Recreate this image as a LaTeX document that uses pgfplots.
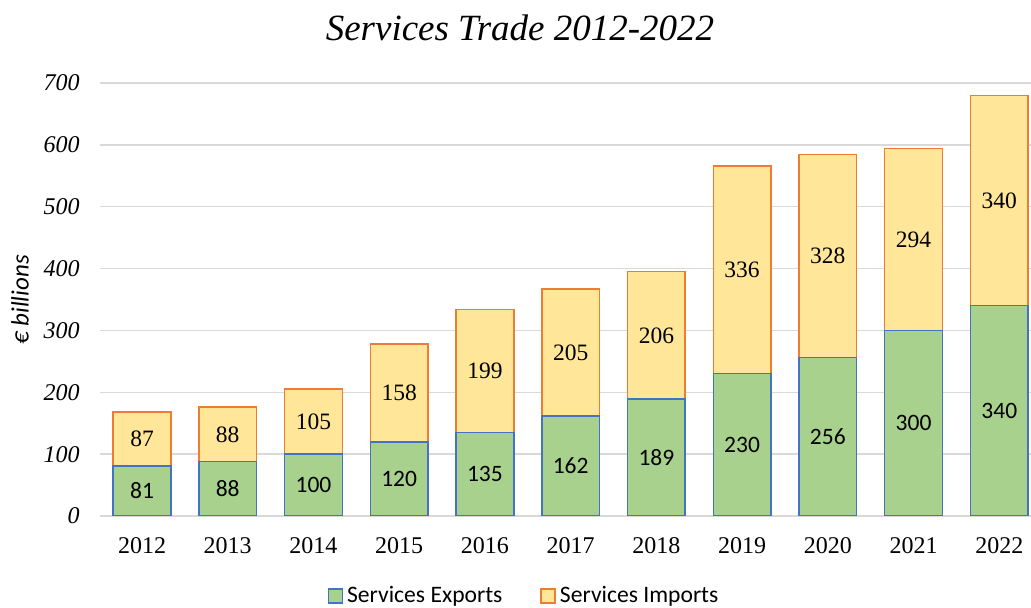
\documentclass[border=0pt]{standalone}
\usepackage{pgfplots}
\pgfplotsset{compat=1.18}
\usepackage{pgfplotstable}
\usepackage{fontspec}
\setmainfont{Liberation Serif}
\newfontfamily\calibri{Carlito}
\newfontfamily\timesfont{Liberation Serif}
\definecolor{expfill}{HTML}{A9D18E}
\definecolor{expdraw}{HTML}{4472C4}
\definecolor{impfill}{HTML}{FFE699}
\definecolor{impdraw}{HTML}{ED7D31}
\definecolor{gridgray}{HTML}{D9D9D9}

\pgfplotstableread{
x year exp imp
0 2012 81 87
1 2013 88 88
2 2014 100 105
3 2015 120 158
4 2016 135 199
5 2017 162 205
6 2018 189 206
7 2019 230 336
8 2020 256 328
9 2021 300 294
10 2022 340 340
}\trade

\pgfplotsset{frame/.style={
  scale only axis, width=465.5pt, height=216.5pt,
  xmin=-0.49, xmax=10.37, ymin=0, ymax=700}}

\begin{document}
\begin{tikzpicture}
\useasboundingbox (-50pt,-46pt) rectangle (465.5pt,258pt);
\begin{axis}[
  frame,
  ybar stacked, bar width=28.85pt,
  xtick=data,
  xticklabels={2012,2013,2014,2015,2016,2017,2018,2019,2020,2021,2022},
  ytick={0,100,...,700},
  yticklabels={0,100,200,300,400,500,600,700},
  axis line style={draw=none},
  tick style={draw=none},
  ymajorgrids,
  major grid style={gridgray, line width=0.75pt},
  yticklabel style={anchor=east, inner sep=0pt, xshift=-10pt, font=\itshape\fontsize{12}{14}\selectfont},
  xticklabel style={anchor=north, inner sep=0pt, yshift=-10.5pt, font=\fontsize{12}{14}\selectfont},
  title={Services Trade 2012-2022},
  title style={at={(0.4511,1)}, anchor=center, yshift=21.5pt, inner sep=0pt, font=\itshape\fontsize{18.5}{22}\selectfont},
  ylabel={€ billions},
  every axis y label/.style={at={(rel axis cs:0,0.499)}, xshift=-40pt, rotate=90, anchor=center, inner sep=0pt, font=\calibri\itshape\fontsize{12.5}{15}\selectfont},
  legend style={at={(0.4565,0)}, yshift=-40pt, anchor=center, draw=none, legend columns=-1,
    font=\calibri\fontsize{11.8}{14}\selectfont,
    /tikz/every even column/.append style={column sep=17pt}},
  legend image code/.code={\draw[#1, line width=0.75pt] (0pt,-3.5pt) rectangle (7pt,3.5pt);},
]
\addplot[fill=expfill, draw=expdraw, line width=0.75pt] table[x=x, y=exp]{\trade};
\addplot[fill=impfill, draw=impdraw, line width=0.75pt] table[x=x, y=imp]{\trade};
\legend{Services Exports, Services Imports}
\end{axis}
% value labels, centred in each segment; the mark itself is drawn fully transparent
\begin{axis}[frame, hide axis]
\addplot[scatter, only marks, mark=*, mark size=0.5pt,
  point meta=explicit symbolic,
  scatter/@pre marker code/.code={\scope[opacity=0]},
  scatter/@post marker code/.code={\endscope\node[text=black, inner sep=0pt, font=\calibri\fontsize{11.75}{14}\selectfont] {\pgfplotspointmeta};}]
  table[x=x, y expr=\thisrow{exp}/2, meta=exp]{\trade};
\addplot[scatter, only marks, mark=*, mark size=0.5pt,
  point meta=explicit symbolic,
  scatter/@pre marker code/.code={\scope[opacity=0]},
  scatter/@post marker code/.code={\endscope\node[text=black, inner sep=0pt, font=\timesfont\fontsize{11.75}{14}\selectfont] {\pgfplotspointmeta};}]
  table[x=x, y expr=\thisrow{exp}+\thisrow{imp}/2, meta=imp]{\trade};
\end{axis}
\end{tikzpicture}
\end{document}
